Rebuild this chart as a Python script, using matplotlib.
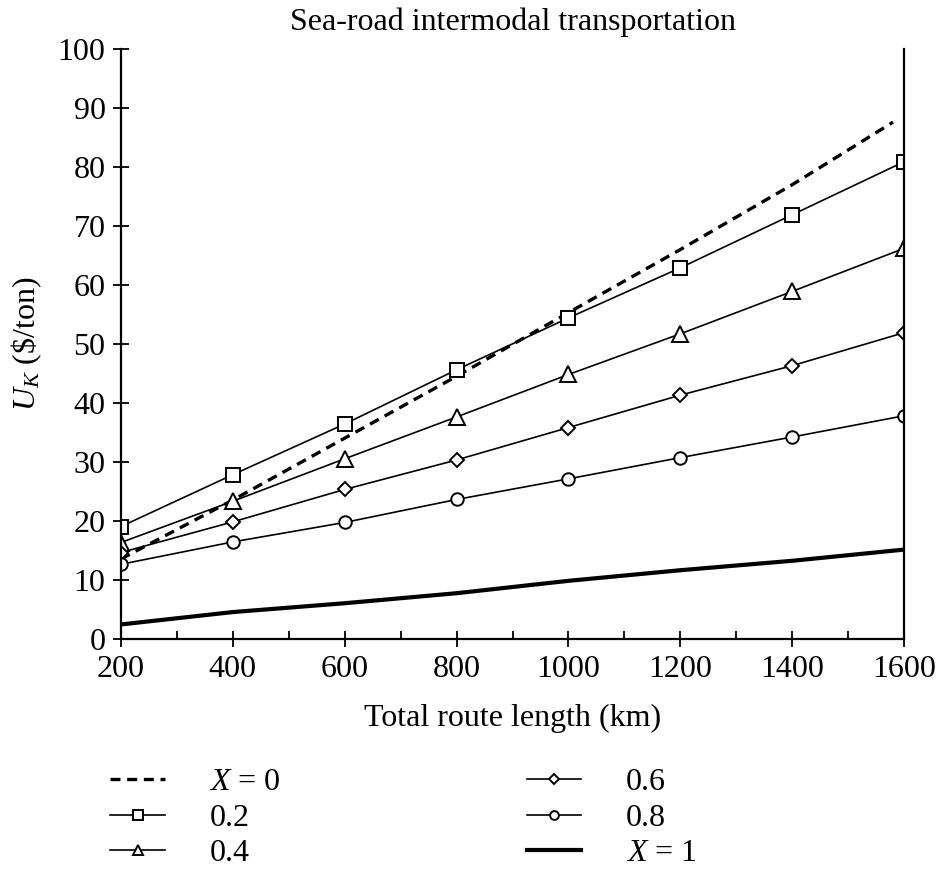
import numpy as np
import matplotlib
matplotlib.use("Agg")
import matplotlib.pyplot as plt
from matplotlib.ticker import MultipleLocator

plt.rcParams['font.family'] = 'Liberation Serif'
plt.rcParams['mathtext.fontset'] = 'custom'
plt.rcParams['mathtext.rm'] = 'Liberation Serif'
plt.rcParams['mathtext.it'] = 'Liberation Serif:italic'

# route length (km)
length = [200, 400, 600, 800, 1000, 1200, 1400, 1600]
length_x0 = [200, 400, 600, 800, 1000, 1200, 1400, 1580]

# U_K ($/ton) for each share X
u_x0 = [13.5, 23.5, 34.0, 44.5, 55.3, 66.0, 77.0, 87.6]
u_02 = [19.0, 27.8, 36.4, 45.6, 54.4, 62.9, 71.9, 80.9]
u_04 = [16.3, 23.3, 30.5, 37.6, 44.8, 51.7, 58.9, 66.2]
u_06 = [14.6, 19.8, 25.3, 30.3, 35.8, 41.3, 46.3, 51.9]
u_08 = [12.6, 16.4, 19.7, 23.6, 27.1, 30.7, 34.2, 37.8]
u_x1 = [2.4, 4.5, 6.0, 7.7, 9.8, 11.6, 13.2, 15.1]

fig = plt.figure(figsize=(9.37, 8.76), dpi=100)
ax = fig.add_axes([0.129, 0.271, 0.836, 0.673])

mk = dict(color='black', linewidth=1.2, markerfacecolor='white',
          markeredgecolor='black', markeredgewidth=1.4)
ax.plot(length_x0, u_x0, linestyle=(0, (3, 2)), color='black', linewidth=2.4, label='$X$ = 0')
ax.plot(length, u_02, marker='s', markersize=10, label='0.2', **mk)
ax.plot(length, u_04, marker='^', markersize=11, label='0.4', **mk)
ax.plot(length, u_06, marker='D', markersize=7.5, label='0.6', **mk)
ax.plot(length, u_08, marker='o', markersize=9, label='0.8', **mk)
ax.plot(length, u_x1, color='black', linewidth=3.0, label='$X$ = 1')

ax.set_xlim(200, 1600)
ax.set_ylim(0, 100)
ax.xaxis.set_major_locator(MultipleLocator(200))
ax.xaxis.set_minor_locator(MultipleLocator(100))
ax.yaxis.set_major_locator(MultipleLocator(10))
ax.tick_params(axis='both', which='major', direction='inout', length=12, width=1.3, labelsize=23)
ax.tick_params(axis='x', which='minor', direction='in', length=6, width=1.3)
ax.tick_params(axis='x', pad=6)
ax.tick_params(axis='y', pad=5)
ax.spines['top'].set_visible(False)
for s in ['left', 'bottom', 'right']:
    ax.spines[s].set_linewidth(1.6)

ax.set_title('Sea-road intermodal transportation', fontsize=23, pad=14)
ax.set_xlabel('Total route length (km)', fontsize=23, labelpad=14)
ax.set_ylabel(r'$U_K$ (\$/ton)', fontsize=23, labelpad=10)

ax.legend(loc='upper left', bbox_to_anchor=(-0.05, -0.17), ncol=2, frameon=False,
          fontsize=23, handlelength=1.7, markerscale=0.7, columnspacing=7.7,
          labelspacing=0.2, handletextpad=1.4)

fig.savefig('out.png', dpi=100)
